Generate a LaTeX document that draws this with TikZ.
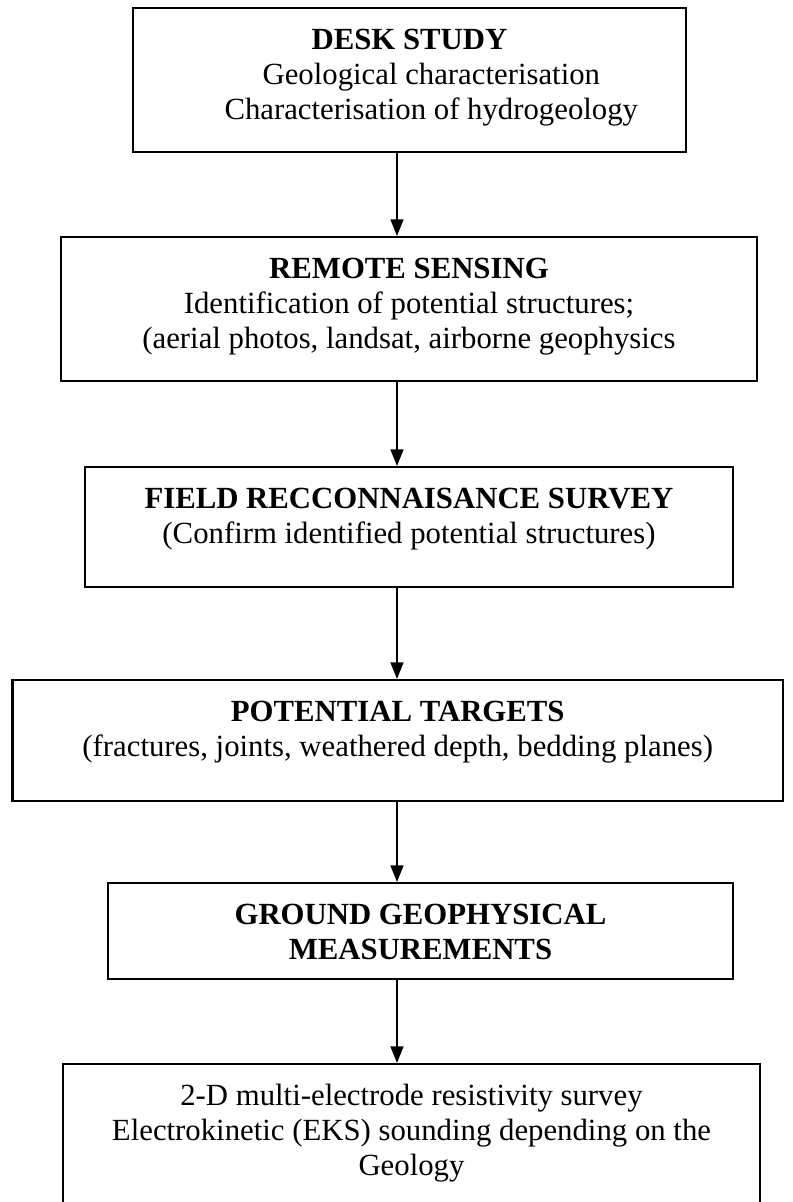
\documentclass[tikz,border=0pt]{standalone}
\usepackage{fontspec}
\setmainfont{Liberation Serif}
\usetikzlibrary{arrows.meta, positioning}

% text block of a stage box, set from its top edge
\newcommand{\stagetext}[3]{\parbox[t][#2][t]{#1}{\centering\fontsize{12}{13.8}\selectfont\rule{0pt}{16pt}#3}}

\begin{document}
\begin{tikzpicture}[x=0.39pt, y=-0.39pt,
    stage/.style={draw, line width=0.8pt, inner sep=0pt, anchor=north},
    flow/.style={-{Triangle[width=5pt,length=6.5pt]}, line width=0.8pt}]
    \useasboundingbox (0,0) rectangle (793,1202);

    \coordinate (spine) at (397,0);

    \node[stage] (desk) at (409.5,7) {\stagetext{215.7pt}{56.2pt}{\textbf{DESK STUDY}\\
        \hspace*{17pt}Geological characterisation\\
        \hspace*{17pt}Characterisation of hydrogeology}};
    \node[stage] (remote) at (409,236) {\stagetext{271.4pt}{56.2pt}{\textbf{REMOTE SENSING}\\
        Identification of potential structures;\\
        (aerial photos, landsat, airborne geophysics}};
    \node[stage] (field) at (409,466) {\stagetext{252.7pt}{46.8pt}{\textbf{FIELD RECCONNAISANCE SURVEY}\\
        (Confirm identified potential structures)}};
    \node[stage] (targets) at (397.75,679) {\stagetext{300.5pt}{47.2pt}{\textbf{POTENTIAL TARGETS}\\
        (fractures, joints, weathered depth, bedding planes)}};
    \node[stage] (ground) at (420.5,882) {\stagetext{243.8pt}{37.4pt}{\textbf{GROUND GEOPHYSICAL}\\
        \textbf{MEASUREMENTS}}};
    \node[stage] (survey) at (411.5,1063) {\stagetext{271.8pt}{58.5pt}{2-D multi-electrode resistivity survey\\
        Electrokinetic (EKS) sounding depending on the\\
        Geology}};

    \draw[flow] (desk.south -| spine) -- (remote.north -| spine);
    \draw[flow] (remote.south -| spine) -- (field.north -| spine);
    \draw[flow] (field.south -| spine) -- (targets.north -| spine);
    \draw[flow] (targets.south -| spine) -- (ground.north -| spine);
    \draw[flow] (ground.south -| spine) -- (survey.north -| spine);
\end{tikzpicture}
\end{document}
